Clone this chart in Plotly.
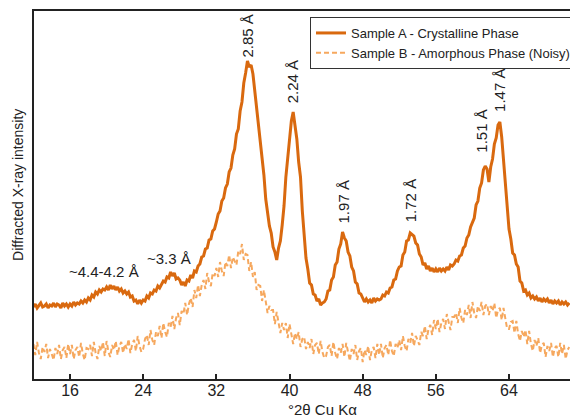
import plotly.graph_objects as go

# 2-theta grid values (deg), 0.2 deg steps
two_theta = [round(12.0 + 0.2 * i, 1) for i in range(294)]

# Sample A - crystalline (arbitrary intensity units)
sample_a = [
    72, 75, 71, 74, 76, 72, 73, 75, 71, 74,
    73, 76, 72, 75, 74, 71, 76, 73, 75, 72,
    75, 73, 77, 74, 76, 75, 78, 76, 79, 77,
    81, 79, 84, 82, 87, 85, 89, 87, 90, 89,
    92, 89, 94, 90, 93, 89, 92, 88, 90, 86,
    88, 85, 87, 82, 83, 78, 79, 75, 79, 76,
    79, 78, 83, 81, 86, 85, 89, 88, 93, 91,
    94, 98, 97, 102, 101, 107, 103, 106, 100, 101,
    99, 94, 97, 93, 99, 98, 104, 101, 108, 107,
    113, 115, 122, 123, 130, 131, 139, 140, 148, 150,
    157, 165, 168, 178, 181, 191, 195, 207, 211, 224,
    230, 245, 250, 268, 277, 296, 306, 318, 312, 314,
    305, 288, 278, 258, 243, 220, 204, 180, 168, 153,
    146, 132, 127, 119, 131, 138, 154, 173, 202, 220,
    245, 258, 267, 254, 240, 217, 202, 168, 142, 121,
    110, 96, 94, 85, 84, 78, 80, 74, 76, 77,
    80, 88, 89, 99, 102, 114, 117, 130, 135, 147,
    141, 138, 127, 123, 112, 108, 97, 95, 86, 85,
    81, 77, 80, 77, 79, 76, 81, 78, 80, 79,
    80, 84, 83, 87, 86, 91, 92, 99, 100, 108,
    112, 113, 124, 127, 138, 139, 146, 144, 143, 136,
    134, 125, 122, 114, 116, 110, 113, 108, 111, 107,
    110, 107, 111, 108, 110, 108, 112, 109, 114, 113,
    115, 119, 118, 123, 124, 131, 133, 141, 144, 152,
    157, 161, 174, 178, 191, 196, 209, 213, 210, 197,
    212, 220, 235, 241, 254, 257, 242, 218, 198, 170,
    150, 140, 126, 124, 115, 112, 98, 96, 88, 89,
    84, 86, 81, 83, 80, 82, 78, 81, 77, 80,
    78, 80, 76, 79, 75, 78, 76, 78, 74, 77,
    75, 77, 74, 76,
]

# Sample B - amorphous, noisy (arbitrary intensity units)
sample_b = [
    35, 24, 37, 26, 20, 32, 27, 35, 21, 30,
    25, 19, 31, 25, 34, 20, 29, 32, 21, 35,
    25, 34, 20, 29, 32, 22, 36, 25, 19, 31,
    30, 34, 23, 37, 26, 20, 33, 28, 37, 23,
    38, 27, 22, 34, 29, 38, 24, 33, 37, 26,
    35, 30, 40, 26, 35, 39, 28, 43, 33, 27,
    30, 40, 44, 34, 49, 39, 34, 47, 43, 53,
    41, 56, 47, 42, 56, 52, 63, 50, 61, 66,
    54, 68, 65, 76, 64, 75, 81, 72, 89, 81,
    94, 83, 94, 99, 90, 106, 97, 93, 106, 103,
    111, 102, 117, 108, 103, 117, 113, 124, 111, 122,
    118, 114, 128, 125, 135, 119, 125, 124, 108, 117,
    102, 107, 89, 94, 93, 78, 89, 75, 66, 73,
    69, 69, 55, 67, 54, 46, 56, 49, 56, 41,
    55, 43, 35, 46, 40, 47, 32, 40, 42, 30,
    37, 31, 40, 25, 34, 36, 25, 38, 27, 21,
    23, 32, 34, 23, 37, 26, 20, 31, 26, 35,
    22, 36, 25, 18, 30, 25, 34, 19, 28, 31,
    17, 29, 24, 33, 19, 29, 32, 21, 35, 24,
    35, 21, 31, 34, 24, 39, 28, 23, 35, 31,
    39, 29, 43, 33, 28, 40, 36, 46, 33, 43,
    39, 34, 47, 43, 53, 40, 50, 54, 44, 59,
    50, 60, 47, 56, 60, 50, 65, 55, 49, 62,
    62, 66, 56, 71, 61, 56, 69, 64, 74, 61,
    77, 66, 61, 73, 68, 77, 64, 73, 75, 64,
    73, 68, 76, 61, 69, 71, 59, 71, 58, 50,
    50, 57, 58, 46, 58, 45, 38, 48, 42, 49,
    35, 48, 35, 28, 39, 33, 41, 26, 34, 36,
    22, 33, 28, 36, 22, 31, 33, 22, 36, 25,
    34, 20, 29, 32,
]

tick_vals = [16, 24, 32, 40, 48, 56, 64]

# peak labels: text, 2theta, intensity, angle
peak_texts = ["2.85 Å", "2.24 Å", "1.97 Å", "1.72 Å", "1.51 Å", "1.47 Å", "~4.4-4.2 Å", "~3.3 Å"]
peak_x = [35.3, 40.3, 45.9, 53.2, 60.9, 62.9, 19.7, 26.8]
peak_y = [343, 297, 177, 178, 248, 289, 108, 121]
peak_angle = [-90, -90, -90, -90, -90, -90, 0, 0]

FONT = "Liberation Sans, Arial, Helvetica, sans-serif"
INK = "#222222"

fig = go.Figure()
fig.add_trace(go.Scatter(
    x=two_theta, y=sample_a, mode="lines",
    name="Sample A - Crystalline Phase",
    line=dict(color="#D9690F", width=3),
))
fig.add_trace(go.Scatter(
    x=two_theta, y=sample_b, mode="lines",
    name="Sample B - Amorphous Phase (Noisy)",
    line=dict(color="#F6A85E", width=2, dash="5px,3px"),
))

annotations = []
for t, px, py, a in zip(peak_texts, peak_x, peak_y, peak_angle):
    annotations.append(dict(
        x=px, y=py, xref="x", yref="y", text=t, textangle=a,
        showarrow=False, xanchor="center", yanchor="middle",
        font=dict(family=FONT, size=15, color=INK),
    ))
annotations.append(dict(
    x=(322 - 34) / 536, y=-0.084, xref="paper", yref="paper",
    text="°2θ Cu Kα", showarrow=False, xanchor="center", yanchor="middle",
    font=dict(family=FONT, size=15, color=INK),
))
annotations.append(dict(
    x=-0.03, y=(379 - 185) / 368, xref="paper", yref="paper",
    text="Diffracted X-ray intensity", textangle=-90, showarrow=False,
    xanchor="center", yanchor="middle",
    font=dict(family=FONT, size=14, color=INK),
))

fig.update_layout(
    width=570, height=420,
    margin=dict(l=34, r=0, t=11, b=41, autoexpand=False),
    paper_bgcolor="white", plot_bgcolor="white",
    font=dict(family=FONT, color=INK),
    showlegend=True,
    legend=dict(
        x=(310 - 34) / 536, y=(379 - 17) / 368, xanchor="left", yanchor="top",
        bgcolor="white", bordercolor="#333333", borderwidth=1,
        font=dict(family=FONT, size=13, color=INK),
        tracegroupgap=0,
    ),
    annotations=annotations,
    xaxis=dict(
        range=[12.06, 70.67], tickvals=tick_vals, ticks="inside", ticklen=5,
        tickwidth=1.5, tickcolor=INK, showline=True, linecolor=INK, linewidth=1.8,
        mirror=True, showgrid=False, zeroline=False, ticklabelstandoff=-4,
        tickfont=dict(family=FONT, size=16, color=INK), automargin=False,
    ),
    yaxis=dict(
        range=[0, 368], showticklabels=False, ticks="", showline=True,
        linecolor=INK, linewidth=1.8, mirror=False, showgrid=False,
        zeroline=False, automargin=False,
    ),
)

# remove the default page margin so the figure sits at the window's corner
fig.write_html(
    "out.html",
    config={"displayModeBar": False},
    post_script="document.body.style.margin='0';document.body.style.overflow='hidden';",
)
